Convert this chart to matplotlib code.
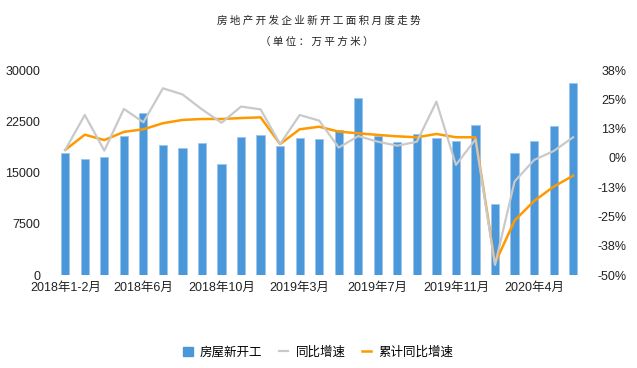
import math
import numpy as np
import matplotlib.pyplot as plt
from matplotlib.patches import Patch
from matplotlib.lines import Line2D
from matplotlib.ticker import FixedLocator, FuncFormatter

plt.rcParams['font.family'] = ['Liberation Sans', 'Noto Sans CJK SC', 'DejaVu Sans']

months = ["2018年1-2月", "2018年3月", "2018年4月", "2018年5月", "2018年6月", "2018年7月",
          "2018年8月", "2018年9月", "2018年10月", "2018年11月", "2018年12月",
          "2019年1-2月", "2019年3月", "2019年4月", "2019年5月", "2019年6月", "2019年7月",
          "2019年8月", "2019年9月", "2019年10月", "2019年11月", "2019年12月",
          "2020年1-2月", "2020年3月", "2020年4月", "2020年5月", "2020年6月"]
shown_labels = ["2018年1-2月", "2018年6月", "2018年10月", "2019年3月",
                "2019年7月", "2019年11月", "2020年4月"]

# 房屋新开工面积 (万平方米)
new_starts = [17800, 16930, 17220, 20380, 23750, 18970, 18530, 19260, 16190, 20190,
              20480, 18870, 20000, 19900, 21210, 25850, 20340, 19460, 20630, 20000,
              19650, 21990, 10340, 17900, 19650, 21850, 28140]
# 同比增速 (%)
yoy = [3.4, 18.3, 3.1, 20.9, 15.2, 29.7, 27.1, 20.7, 15.0, 21.9,
       20.7, 5.9, 18.3, 15.9, 4.4, 9.3, 6.9, 5.2, 6.9, 24.0,
       -3.0, 7.9, -45.7, -10.1, -0.9, 2.9, 8.8]
# 累计同比增速 (%)
cum_yoy = [3.4, 9.9, 7.6, 11.1, 12.2, 14.8, 16.2, 16.6, 16.6, 17.0,
           17.3, 5.9, 12.2, 13.3, 11.2, 10.5, 9.8, 9.2, 8.8, 10.2,
           8.8, 8.8, -45.0, -26.8, -18.4, -12.3, -7.6]

left_ticks = [0, 7500, 15000, 22500, 30000]
right_ticks = [-50, -37.5, -25, -12.5, 0, 12.5, 25, 37.5]

bar_color = '#4A97DA'
gray = '#C9C9C9'
orange = '#FF9900'


def pct(v, pos):
    # round half away from zero, like the original labels (12.5 -> 13%)
    r = int(math.floor(abs(v) + 0.5))
    return f"{'-' if v < 0 and r else ''}{r}%"


x = np.arange(len(months))

fig = plt.figure(figsize=(6.37, 3.68), dpi=100)
ax = fig.add_axes([0.0871, 0.2527, 0.828, 0.557])
ax2 = ax.twinx()

ax.bar(x, new_starts, width=0.42, color=bar_color, edgecolor='#9CC6EE', linewidth=0.6, zorder=2)
ax.set_ylim(0, 30000)
ax.set_xlim(-0.5, len(months) - 0.5)
ax.yaxis.set_major_locator(FixedLocator(left_ticks))
ax.yaxis.set_major_formatter(FuncFormatter(lambda v, p: f"{int(v)}"))
ax.set_xticks([months.index(m) for m in shown_labels])
ax.set_xticklabels(shown_labels)

ax2.plot(x, cum_yoy, color=orange, linewidth=1.8, zorder=3)
ax2.plot(x, yoy, color=gray, linewidth=1.6, zorder=4)
ax2.set_ylim(-50, 37.5)
ax2.yaxis.set_major_locator(FixedLocator(right_ticks))
ax2.yaxis.set_major_formatter(FuncFormatter(pct))

for a in (ax, ax2):
    for s in a.spines.values():
        s.set_visible(False)
ax.tick_params(axis='both', length=0, labelsize=9, colors='#222222')
ax.tick_params(axis='y', pad=11)
ax.tick_params(axis='x', pad=5)
ax2.tick_params(axis='y', length=0, labelsize=9, colors='#222222', pad=31.5)
for t in ax2.get_yticklabels():
    t.set_horizontalalignment('right')

fig.text(0.5, 1 - 21 / 368, " ".join("房地产开发企业新开工面积月度走势"),
         ha='center', va='center', fontsize=7.6, color='#222222',
         family=['Noto Sans CJK SC', 'DejaVu Sans'])
fig.text(0.497, 1 - 42 / 368, " ".join("（单位：万平方米）"),
         ha='center', va='center', fontsize=7.6, color='#222222',
         family=['Noto Sans CJK SC', 'DejaVu Sans'])

handles = [Patch(facecolor=bar_color, edgecolor=bar_color),
           Line2D([0], [0], color=gray, linewidth=1.6),
           Line2D([0], [0], color=orange, linewidth=1.8)]
fig.legend(handles, ["房屋新开工", "同比增速", "累计同比增速"], loc='center',
           bbox_to_anchor=(0.5, 1 - 352 / 368), ncol=3, frameon=False,
           handlelength=0.75, handleheight=0.75, handletextpad=0.6, columnspacing=1.3,
           prop={'family': ['Noto Sans CJK SC', 'DejaVu Sans'], 'size': 9})

fig.savefig('out.png', dpi=100)
